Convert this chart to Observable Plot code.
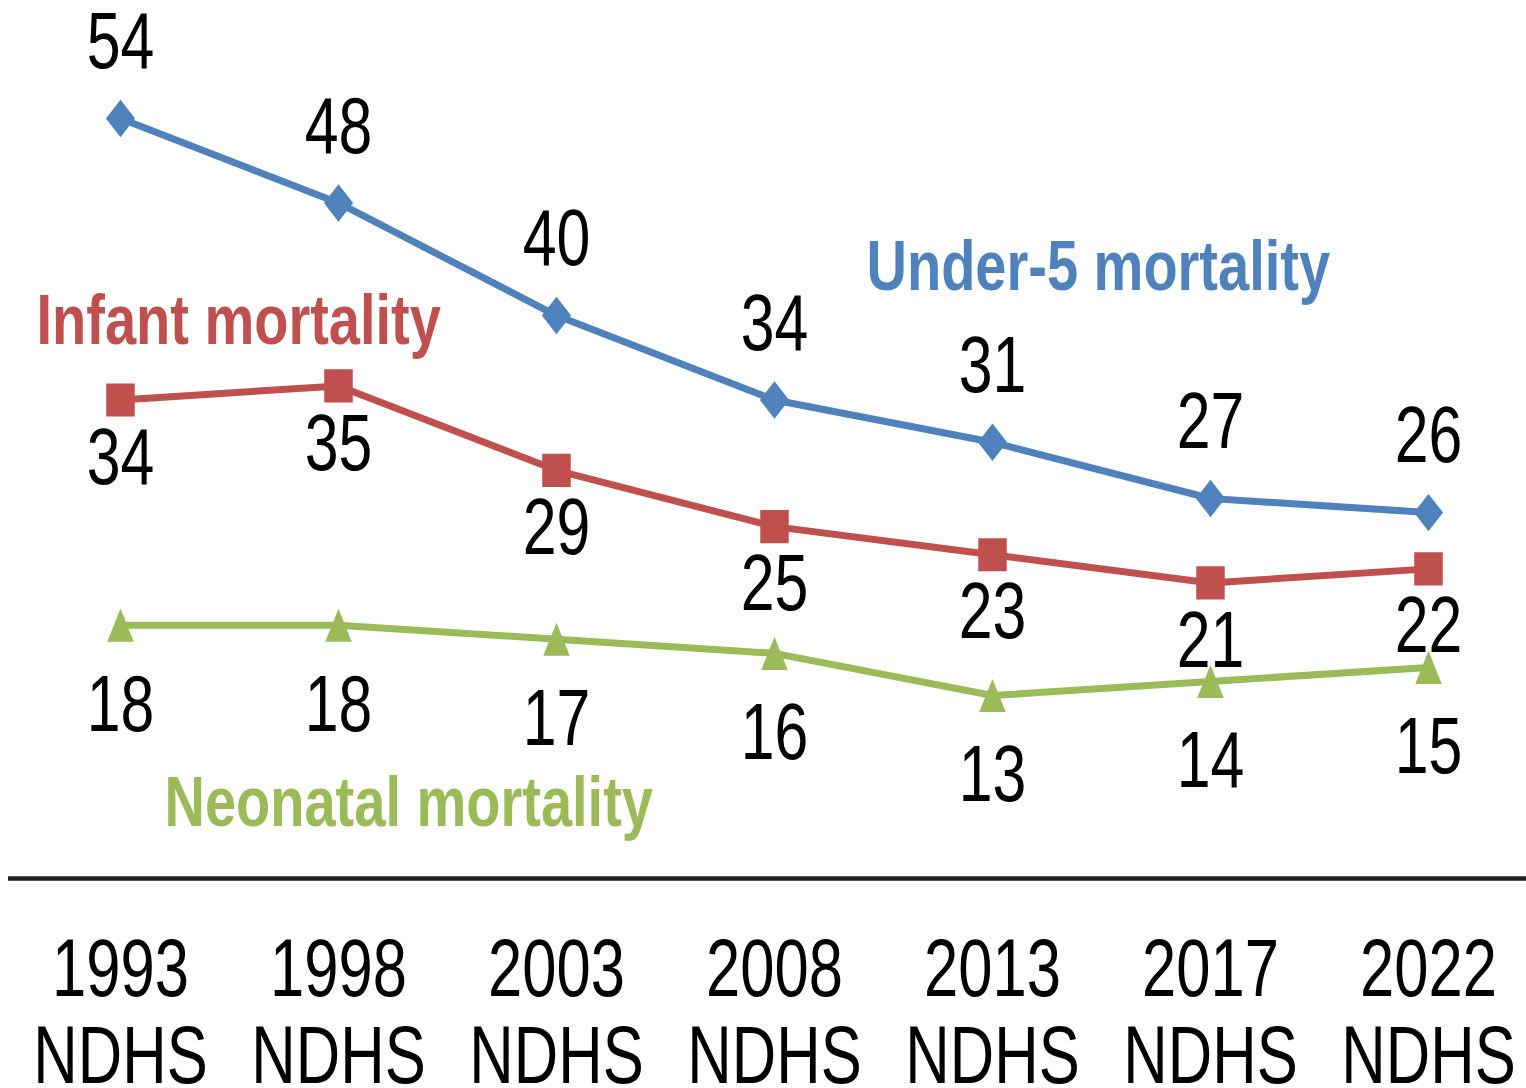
<!DOCTYPE html>
<html>
<head>
<meta charset="utf-8">
<script src="https://cdn.jsdelivr.net/npm/d3@7"></script>
<script src="https://cdn.jsdelivr.net/npm/@observablehq/plot@0.6"></script>
<style>
  html, body { margin: 0; padding: 0; background: #fff; overflow: hidden; }
  #chart svg { max-width: none; display: block; }
</style>
</head>
<body>
<div id="chart"></div>
<script>
// ---- data ----
const surveys = ["1993", "1998", "2003", "2008", "2013", "2017", "2022"];
const surveyTag = "NDHS";
const under5 = [54, 48, 40, 34, 31, 27, 26];
const infant = [34, 35, 29, 25, 23, 21, 22];
const neonatal = [18, 18, 17, 16, 13, 14, 15];
const seriesNames = ["Under-5 mortality", "Infant mortality", "Neonatal mortality"];

// ---- styles ----
const colors = {"Under-5 mortality": "#4F81BD", "Infant mortality": "#C0504D", "Neonatal mortality": "#9BBB59"};
const FONT = "'Liberation Sans', Arial, sans-serif";

const series = [under5, infant, neonatal];
const rows = seriesNames.flatMap((name, s) =>
  surveys.map((survey, i) => ({survey, name, value: series[s][i]}))
);
const of = name => rows.filter(d => d.name === name);

// custom marker shapes (slightly tall, as in the reference)
const diamond = {draw(ctx, size) { const h = Math.sqrt(size) * 0.62, w = h * 0.78;
  ctx.moveTo(0, -h); ctx.lineTo(w, 0); ctx.lineTo(0, h); ctx.lineTo(-w, 0); ctx.closePath(); }};
const square = {draw(ctx, size) { const h = Math.sqrt(size) * 0.55, w = h * 0.86;
  ctx.moveTo(-w, -h); ctx.lineTo(w, -h); ctx.lineTo(w, h); ctx.lineTo(-w, h); ctx.closePath(); }};
const triangle = {draw(ctx, size) { const h = Math.sqrt(size) * 0.55, w = h * 0.8;
  ctx.moveTo(0, -h); ctx.lineTo(w, h); ctx.lineTo(-w, h); ctx.closePath(); }};
const symbols = {"Under-5 mortality": diamond, "Infant mortality": square, "Neonatal mortality": triangle};
const labelDy = {"Under-5 mortality": -76, "Infant mortality": 58, "Neonatal mortality": 80};

const marks = [];
for (const name of seriesNames) {
  marks.push(Plot.line(of(name), {x: "survey", y: "value", stroke: colors[name], strokeWidth: 7}));
  marks.push(Plot.dot(of(name), {x: "survey", y: "value", symbol: symbols[name], r: 17, fill: colors[name], stroke: "none"}));
  marks.push(Plot.text(of(name), {x: "survey", y: "value", text: d => String(d.value), dy: labelDy[name],
    fill: "#000", fontSize: 80, lineAnchor: "middle", className: "squeeze-reg"}));
}

// series labels
const seriesLabelPos = {
  "Under-5 mortality": [858, 289],
  "Infant mortality": [28, 343],
  "Neonatal mortality": [156, 825]
};
for (const name of seriesNames) {
  marks.push(Plot.text([name], {frameAnchor: "top-left", text: d => d, dx: seriesLabelPos[name][0], dy: seriesLabelPos[name][1],
    textAnchor: "start", lineAnchor: "bottom", fill: colors[name], fontSize: 70, fontWeight: "bold", className: "squeeze-bold"}));
}

marks.push(Plot.ruleY([0], {stroke: "#222", strokeWidth: 4.5}));
marks.push(Plot.axisX({tickSize: 0, tickPadding: 55, fontSize: 81, lineHeight: 1.08,
  tickFormat: d => d + "\n" + surveyTag, fill: "#000", className: "squeeze-axis"}));

const chart = Plot.plot({
  width: 1526,
  height: 1088,
  marginLeft: 8,
  marginRight: 0,
  marginTop: 0,
  marginBottom: 210,
  style: {fontFamily: FONT, background: "#fff", color: "#000", overflow: "visible"},
  x: {type: "point", domain: surveys, range: [118, 1429], padding: 0, label: null},
  y: {domain: [0, 54], range: [878, 118], axis: null},
  marks
});

// the reference's lettering is horizontally condensed: squeeze each text about its anchor
function squeeze(sel, k) {
  chart.querySelectorAll(sel + " text").forEach(t => {
    const tr = t.getAttribute("transform");
    if (tr) t.setAttribute("transform", tr + ` scale(${k},1)`);
    else {
      const x = +t.getAttribute("x") || 0;
      t.setAttribute("transform", `translate(${x},0) scale(${k},1) translate(${-x},0)`);
    }
  });
}
squeeze(".squeeze-reg", 0.76);
squeeze(".squeeze-axis", 0.76);
squeeze(".squeeze-bold", 0.80);

document.getElementById("chart").appendChild(chart);
</script>
</body>
</html>
